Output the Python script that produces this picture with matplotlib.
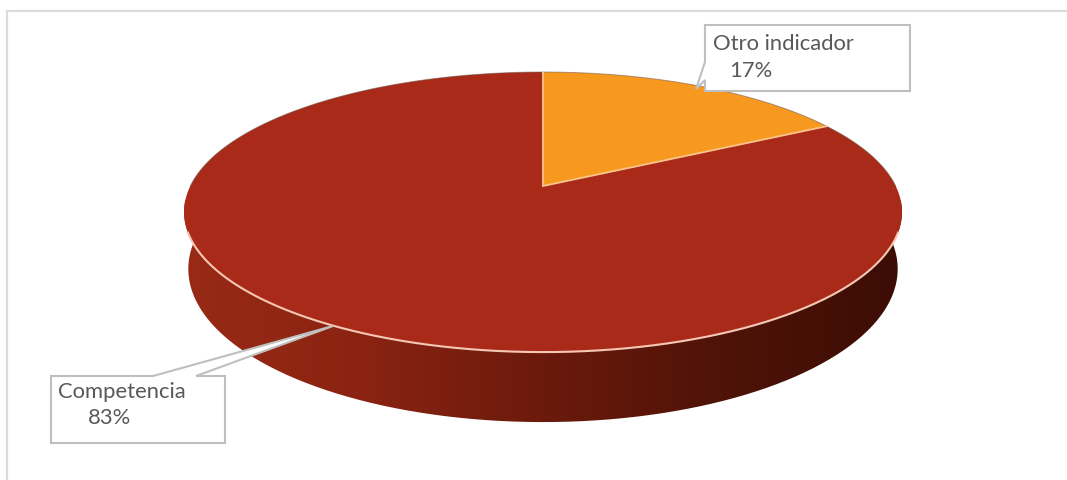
import matplotlib

matplotlib.use("Agg")
import matplotlib.pyplot as plt
import numpy as np
from matplotlib.colors import LinearSegmentedColormap
from matplotlib.patches import PathPatch, Polygon
from matplotlib.path import Path

categories = ["Otro indicador", "Competencia"]
shares = [17, 83]
slice_colors = ["#f7991f", "#a92a19"]
side_colors = ["#982a16", "#8a2312", "#6b1a0c", "#4f1307", "#3c0d05"]

W, H = 1067, 480
FRAME = "#dcdcdc"
BOX_EDGE = "#bfbfbf"
TEXT = "#595959"
RIM = "#f6c7b4"


def disc_point(theta, cx, cy, a, b, k=0.186):
    # perspective projection of the unit disc; theta runs clockwise from the back
    x = np.sin(theta)
    y = np.cos(theta)
    d = 1 + k * y
    return cx + a * x / d, cy - b * y / d


def wedge(start, end, disc):
    t = np.linspace(start, end, 240)
    xs, ys = disc_point(t, *disc)
    return np.column_stack([np.r_[disc[0], xs], np.r_[disc[1], ys]])


fig = plt.figure(figsize=(W / 100, H / 100), dpi=100)
ax = fig.add_axes([0, 0, 1, 1])
ax.set_xlim(0, W)
ax.set_ylim(H, 0)
ax.axis("off")

# chart frame only shows on the top and left
ax.plot([7, 7, W], [H, 11, 11], color=FRAME, lw=1.6, solid_joinstyle="miter")

top_disc = (543, 186, 352.7, 135.2)
low_disc = (543, 240.5, 348.5, 147.8)

# side wall: front half of the lower disc joined to the front half of the top one
t_front = np.linspace(np.pi / 2 - 0.03, 3 * np.pi / 2 + 0.03, 400)
tx, ty = disc_point(t_front, *top_disc)
lx, ly = disc_point(t_front, *low_disc)
wall = np.column_stack([np.r_[tx, lx[::-1]], np.r_[ty, ly[::-1]]])
cmap = LinearSegmentedColormap.from_list("side", side_colors)
img = ax.imshow(np.linspace(0, 1, 512)[None, :], cmap=cmap, aspect="auto",
                extent=(184, 902, 430, 200), zorder=2)
img.set_clip_path(PathPatch(Path(wall), transform=ax.transData))
ax.set_xlim(0, W)
ax.set_ylim(H, 0)

# slices are laid out clockwise from the back of the disc
fractions = np.cumsum([0] + shares) / sum(shares)
for i, color in enumerate(slice_colors):
    pts = wedge(2 * np.pi * fractions[i], 2 * np.pi * fractions[i + 1], top_disc)
    ax.add_patch(Polygon(pts, closed=True, fc=color, ec="none", zorder=3))

# faint shadow on the back edge, light rim along the front and the orange slice
t_back = np.linspace(-np.pi / 2, np.pi / 2, 300)
bx, by = disc_point(t_back, *top_disc)
ax.plot(bx, by, color="#6e5a50", lw=0.7, alpha=0.55, zorder=4)
t_rim = np.linspace(np.pi / 2 + 0.33, 3 * np.pi / 2 - 0.33, 300)
rx, ry = disc_point(t_rim, *top_disc)
ax.plot(rx, ry, color=RIM, lw=1.5, zorder=4)
edge_pts = [disc_point(0.0, *top_disc), top_disc[:2],
            disc_point(2 * np.pi * fractions[1], *top_disc)]
ax.plot(*zip(*edge_pts), color="#fbc48a", lw=1.3, zorder=4, solid_joinstyle="miter")


def callout(outline, lines):
    ax.add_patch(Polygon(outline, closed=True, fc="white", ec=BOX_EDGE, lw=1.5,
                         zorder=5, joinstyle="miter"))
    for x, y, s in lines:
        ax.text(x, y, s, fontsize=15.8, family="Lato", color=TEXT,
                va="center", ha="left", zorder=6)


callout([(705, 25), (910, 25), (910, 91), (705, 91), (705, 80), (696, 89), (705, 62)],
        [(713, 44, categories[0]), (729, 71, f"{shares[0]}%")])
callout([(51, 376), (153, 376), (333, 326), (196, 376), (225, 376), (225, 443), (51, 443)],
        [(58, 392, categories[1]), (88, 418, f"{shares[1]}%")])

fig.savefig("out.png", dpi=100)
